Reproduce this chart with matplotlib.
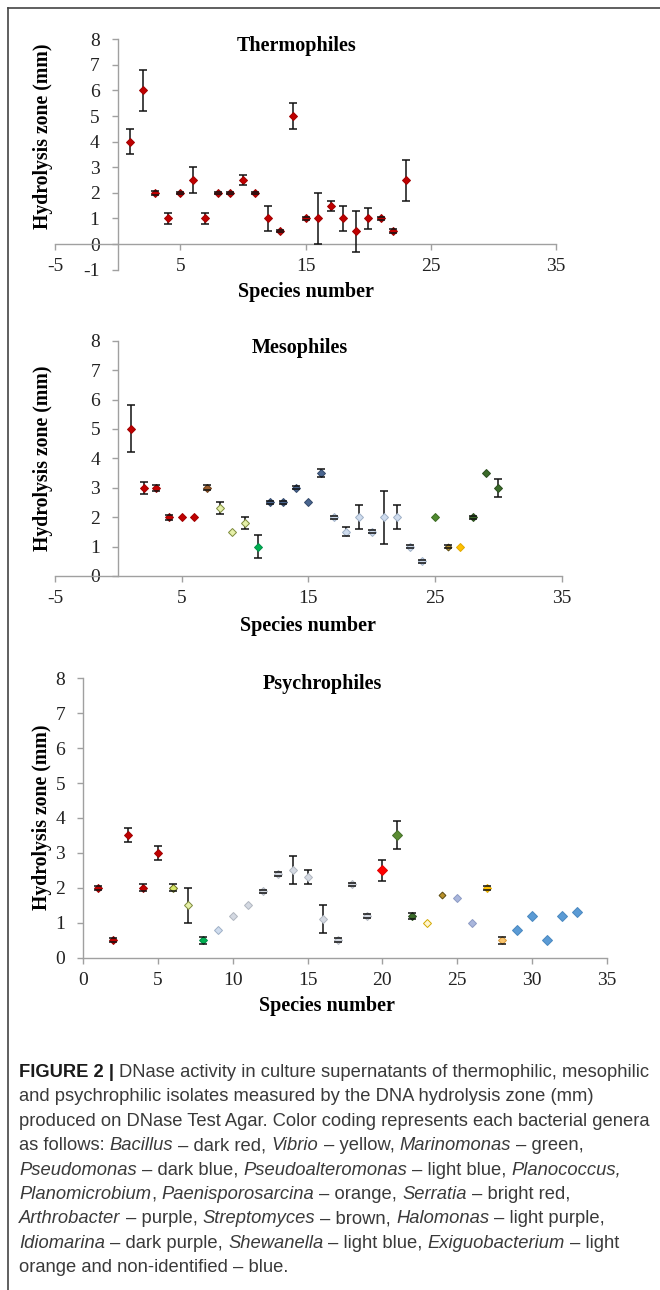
import matplotlib
matplotlib.use("Agg")
import matplotlib.pyplot as plt
from matplotlib.lines import Line2D

plt.rcParams["axes.unicode_minus"] = False

W, H = 660, 1290

# ---- data ----
thermo_x = list(range(1, 24))
thermo_y = [4, 6, 2, 1, 2, 2.5, 1, 2, 2, 2.5, 2, 1, 0.5, 5, 1, 1, 1.5, 1, 0.5, 1, 1, 0.5, 2.5]
thermo_err = [0.5, 0.8, 0.08, 0.2, 0.05, 0.5, 0.2, 0.05, 0.05, 0.2, 0.05, 0.5, 0.05, 0.5,
              0.05, 1.0, 0.2, 0.5, 0.8, 0.4, 0.05, 0.08, 0.8]
thermo_group = ["dark red"] * 23

meso_x = list(range(1, 31))
meso_y = [5, 3, 3, 2, 2, 2, 3, 2.3, 1.5, 1.8, 1.0, 2.5, 2.5, 3.0, 2.5, 3.5, 2.0, 1.5, 2.0,
          1.5, 2.0, 2.0, 1.0, 0.5, 2.0, 1.0, 1.0, 2.0, 3.5, 3.0]
meso_err = [0.8, 0.2, 0.1, 0.08, 0, 0, 0.08, 0.2, 0, 0.2, 0.4, 0.05, 0.05, 0.05, 0, 0.15,
            0.05, 0.15, 0.4, 0.05, 0.9, 0.4, 0.05, 0.05, 0, 0.05, 0, 0.05, 0, 0.3]
meso_group = (["dark red"] * 6 + ["brown"] + ["pale green"] * 3 + ["green"]
              + ["dark blue"] * 5 + ["light blue"] * 8 + ["olive", "dark yellow", "yellow"]
              + ["dark green"] * 3)

psy_x = list(range(1, 34))
psy_y = [2, 0.5, 3.5, 2, 3, 2, 1.5, 0.5, 0.8, 1.2, 1.5, 1.9, 2.4, 2.5, 2.3, 1.1, 0.5, 2.1,
         1.2, 2.5, 3.5, 1.2, 1.0, 1.8, 1.7, 1.0, 2.0, 0.5, 0.8, 1.2, 0.5, 1.2, 1.3]
psy_err = [0.05, 0.05, 0.2, 0.1, 0.2, 0.1, 0.5, 0.1, 0, 0, 0, 0.05, 0.05, 0.4, 0.2, 0.4,
           0.05, 0.05, 0.05, 0.3, 0.4, 0.08, 0, 0, 0, 0, 0.05, 0.1, 0, 0, 0, 0, 0]
psy_group = (["dark red"] * 5 + ["yellow green", "pale green", "green", "light blue"]
             + ["light gray"] * 10 + ["bright red", "mid green", "dark green", "pale yellow",
             "dark yellow", "lavender", "lavender", "yellow", "light orange"] + ["blue"] * 5)

# fill, edge, size
palette = {
    "dark red": ("#c00000", "#a00000", 4.3),
    "bright red": ("#ff0000", "#e00000", 5),
    "brown": ("#9a5b2a", "#6e3f1a", 4.3),
    "pale green": ("#e6f0a8", "#7d8a3c", 4.3),
    "yellow green": ("#d8e86a", "#6b6b20", 4.3),
    "green": ("#00b050", "#00904a", 4.3),
    "dark blue": ("#4a6690", "#34496a", 4.3),
    "light blue": ("#cfdcee", "#9fb0c6", 4.3),
    "light gray": ("#d4d9e2", "#b0b6c0", 4.3),
    "olive": ("#4f8a2e", "#3b6b22", 4.3),
    "dark yellow": ("#b8902a", "#5a4a10", 3.5),
    "yellow": ("#ffc000", "#e0a800", 4.3),
    "dark green": ("#3b6b2a", "#2a4d1e", 4.3),
    "mid green": ("#5b8c32", "#44702a", 5),
    "pale yellow": ("#fff6d0", "#d4a900", 4.3),
    "lavender": ("#a9b6dc", "#8c9ac4", 4.3),
    "light orange": ("#f9c56e", "#d99a3a", 4.3),
    "blue": ("#5b9bd5", "#4a88c0", 5.5),
}

SERIF = "Liberation Serif"
AX_GRAY = "#a0a0a0"

fig = plt.figure(figsize=(W / 100, H / 100), dpi=100)


def fx(px):
    return px / W


def fy(py):
    return 1 - py / H


def panel(rect, xs, ys, errs, groups, xlim, ylim, xticks, title, title_xy, xlab_xy, ylab_xy):
    left, top, right, bottom = rect
    ax = fig.add_axes([fx(left), fy(bottom), (right - left) / W, (bottom - top) / H])
    ax.set_xlim(*xlim)
    ax.set_ylim(*ylim)
    for s in ["top", "right"]:
        ax.spines[s].set_visible(False)
    ax.spines["left"].set_position(("data", 0))
    ax.spines["bottom"].set_position(("data", 0))
    for s in ["left", "bottom"]:
        ax.spines[s].set_color(AX_GRAY)
        ax.spines[s].set_linewidth(1.0)
    ax.set_xticks(xticks)
    ax.set_yticks(range(int(ylim[0]), 9))
    ax.tick_params(axis="both", direction="out", color=AX_GRAY, width=1.0, length=4,
                   labelsize=14, labelcolor="#222222")
    ax.tick_params(axis="y", pad=9)
    ax.tick_params(axis="x", pad=6)
    for lab in ax.get_xticklabels() + ax.get_yticklabels():
        lab.set_family(SERIF)
    ax.patch.set_alpha(0)

    for x, y, e, g in zip(xs, ys, errs, groups):
        fc, ec, ms = palette[g]
        if e > 0:
            _, caps, bars = ax.errorbar(x, y, yerr=e, fmt="none", ecolor="#111111",
                                        elinewidth=1.1, capsize=3, capthick=1.1)
            for c in caps:
                c.set_zorder(5)
            for b in bars:
                b.set_zorder(3)
        ax.plot(x, y, "D", ms=ms, mfc=fc, mec=ec, mew=0.7, zorder=4, clip_on=False)

    fig.text(fx(title_xy[0]), fy(title_xy[1]), title, ha="center", va="center",
             family=SERIF, weight="bold", fontsize=14.5)
    fig.text(fx(xlab_xy[0]), fy(xlab_xy[1]), "Species number", ha="center", va="center",
             family=SERIF, weight="bold", fontsize=14.5)
    fig.text(fx(ylab_xy[0]), fy(ylab_xy[1]), "Hydrolysis zone (mm)", ha="center",
             va="center", rotation=90, family=SERIF, weight="bold", fontsize=14.2)
    return ax


panel((55, 39.3, 556, 269.6), thermo_x, thermo_y, thermo_err, thermo_group,
      (-5, 35), (-1, 8), [-5, 5, 15, 25, 35], "Thermophiles", (297, 46), (306, 292), (43, 136))
panel((55, 340.7, 561.7, 576), meso_x, meso_y, meso_err, meso_group,
      (-5, 35), (0, 8), [-5, 5, 15, 25, 35], "Mesophiles", (300, 348), (308, 626), (43, 458))
panel((83.3, 678.3, 606.7, 957.7), psy_x, psy_y, psy_err, psy_group,
      (0, 35), (0, 8), [0, 5, 10, 15, 20, 25, 30, 35], "Psychrophiles", (322, 684),
      (327, 1006), (42, 817))

# frame (left and top edges)
fig.add_artist(Line2D([fx(8), fx(8)], [fy(8), 0], transform=fig.transFigure,
                      color="#444444", lw=1.2))
fig.add_artist(Line2D([fx(8), 1], [fy(8), fy(8)], transform=fig.transFigure,
                      color="#444444", lw=1.2))

# ---- caption ----
CAP_FONT = ["Liberation Sans Narrow", "Liberation Sans"]
CAP_SIZE = 13.2
CAP_COLOR = "#3a3a3a"
caption = [
    [("FIGURE 2 |", "b"), (" DNase activity in culture supernatants of thermophilic, mesophilic", "r")],
    [("and psychrophilic isolates measured by the DNA hydrolysis zone (mm)", "r")],
    [("produced on DNase Test Agar. Color coding represents each bacterial genera", "r")],
    [("as follows: ", "r"), ("Bacillus", "i"), (" \u2013 dark red, ", "r"), ("Vibrio", "i"),
     (" \u2013 yellow, ", "r"), ("Marinomonas", "i"), (" \u2013 green,", "r")],
    [("Pseudomonas", "i"), (" \u2013 dark blue, ", "r"), ("Pseudoalteromonas", "i"),
     (" \u2013 light blue, ", "r"), ("Planococcus,", "i")],
    [("Planomicrobium", "i"), (", ", "r"), ("Paenisporosarcina", "i"), (" \u2013 orange, ", "r"),
     ("Serratia", "i"), (" \u2013 bright red,", "r")],
    [("Arthrobacter", "i"), (" \u2013 purple, ", "r"), ("Streptomyces", "i"), (" \u2013 brown, ", "r"),
     ("Halomonas", "i"), (" \u2013 light purple,", "r")],
    [("Idiomarina", "i"), (" \u2013 dark purple, ", "r"), ("Shewanella", "i"),
     (" \u2013 light blue, ", "r"), ("Exiguobacterium", "i"), (" \u2013 light", "r")],
    [("orange and non-identified \u2013 blue.", "r")],
]

renderer = fig.canvas.get_renderer()


def style_kw(st):
    kw = dict(fontsize=CAP_SIZE, family=CAP_FONT, color=CAP_COLOR)
    if st == "b":
        kw.update(weight="bold", color="#1a1a1a")
    elif st == "i":
        kw.update(style="italic")
    return kw


def text_w(s, st):
    t = fig.text(0, 0, s, **style_kw(st))
    w = t.get_window_extent(renderer=renderer).width
    t.remove()
    return w


def advance(s, st):
    # width up to where the next glyph would start
    return text_w(s + "n", st) - text_w("n", st)


space_w = {st: text_w("a a", st) - text_w("aa", st) for st in "bri"}

y0 = 1077
for i, line in enumerate(caption):
    x = 19.0
    y = y0 + i * 24.4
    for s, st in line:
        lead = len(s) - len(s.lstrip(" "))
        trail = len(s) - len(s.rstrip(" "))
        core = s.strip(" ")
        x += lead * space_w[st]
        fig.text(fx(x), fy(y), core, ha="left", va="baseline", **style_kw(st))
        x += advance(core, st) + trail * space_w[st]

fig.savefig("out.png", dpi=100)
